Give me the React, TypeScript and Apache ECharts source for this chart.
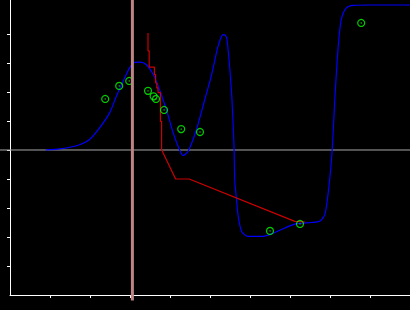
import React, { useEffect, useRef } from "react";
import * as echarts from "echarts";

// Blue smooth curve [x, y]
const blueCurve: [number, number][] = [
  [0.89, 0.0], [1.2, 0.03], [1.41, 0.07], [1.74, 0.18], [1.99, 0.36], [2.24, 0.76],
  [2.49, 1.28], [2.66, 1.85], [2.83, 2.37], [2.99, 2.83], [3.12, 3.02], [3.25, 3.03],
  [3.41, 2.94], [3.58, 2.6], [3.74, 2.08], [3.91, 1.39], [4.08, 0.59], [4.24, 0.0],
  [4.33, -0.19], [4.45, -0.05], [4.66, 0.7], [4.87, 1.74], [5.03, 2.54], [5.2, 3.57],
  [5.3, 3.95], [5.36, 3.98], [5.42, 3.85], [5.49, 2.88], [5.55, 1.73], [5.6, 0.12],
  [5.62, -1.08], [5.66, -1.66], [5.7, -2.23], [5.79, -2.81], [5.95, -2.98], [6.29, -2.98],
  [6.53, -2.9], [6.87, -2.69], [7.16, -2.54], [7.53, -2.5], [7.74, -2.46], [7.87, -2.23],
  [7.95, -1.54], [8.02, -0.62], [8.06, 0.12], [8.12, 1.73], [8.2, 3.46], [8.28, 4.49],
  [8.41, 4.9], [8.58, 4.99], [9.0, 5.0], [9.5, 5.0], [10, 5.0],
];

// Red polyline [x, y]
const redLine: [number, number][] = [
  [3.45, 4.03], [3.45, 3.42], [3.48, 3.42], [3.48, 2.86], [3.61, 2.86], [3.61, 2.6],
  [3.64, 2.6], [3.64, 2.31], [3.67, 2.31], [3.67, 2.14], [3.7, 2.14], [3.7, 1.98],
  [3.76, 1.98], [3.76, 0.99], [3.79, 0.99], [3.79, 0.01], [4.14, -1.0], [4.48, -1.0],
  [7.12, -2.46], [7.37, -2.48],
];

// Green sample points [x, y]
const greenPoints: [number, number][] = [
  [2.38, 1.76], [2.73, 2.21], [2.98, 2.38], [3.45, 2.04], [3.59, 1.85], [3.65, 1.76],
  [3.85, 1.38], [4.28, 0.72], [4.75, 0.62], [6.5, -2.79], [7.25, -2.55], [8.78, 4.38],
];

// Vertical cursor position and reference line value
const cursorX = 3.06;
const zeroY = 0;

// Axis ranges and tick values
const xMin = 0;
const xMax = 10;
const yMin = -5;
const yMax = 5.172;
const xTicks = [1, 2, 3, 4, 5, 6, 7, 8, 9];
const yTicks = [-4, -3, -2, -1, 0, 1, 2, 3, 4];

export default function App() {
  const ref = useRef<HTMLDivElement>(null);

  useEffect(() => {
    if (!ref.current) return;
    const chart = echarts.init(ref.current, undefined, { renderer: "svg" });
    chart.setOption({
      animation: false,
      backgroundColor: "#000000",
      grid: { left: 10, right: 0, top: 0, bottom: 15 },
      xAxis: {
        type: "value",
        min: xMin,
        max: xMax,
        interval: 1,
        axisLine: { onZero: false, lineStyle: { color: "#ffffff", width: 1 } },
        axisTick: { show: true, length: 3, customValues: xTicks, lineStyle: { color: "#ffffff" } },
        axisLabel: { show: false },
        splitLine: { show: false },
      },
      yAxis: {
        type: "value",
        min: yMin,
        max: yMax,
        interval: 1,
        axisLine: { show: true, onZero: false, lineStyle: { color: "#ffffff", width: 1 } },
        axisTick: { show: true, length: 3, customValues: yTicks, lineStyle: { color: "#ffffff" } },
        axisLabel: { show: false },
        splitLine: { show: false },
      },
      series: [
        {
          type: "line",
          data: blueCurve,
          smooth: 0.25,
          showSymbol: false,
          lineStyle: { color: "#0000ff", width: 1.2 },
          z: 3,
        },
        {
          type: "line",
          data: redLine,
          showSymbol: false,
          lineStyle: { color: "#cc0000", width: 1.2 },
          z: 4,
        },
        {
          type: "scatter",
          data: greenPoints,
          symbol: "circle",
          symbolSize: 7,
          itemStyle: { color: "rgba(0,0,0,0)", borderColor: "#00ff00", borderWidth: 1.2 },
          z: 5,
        },
        {
          type: "scatter",
          data: greenPoints,
          symbol: "circle",
          symbolSize: 1.5,
          itemStyle: { color: "#00cc00" },
          z: 6,
        },
      ],
    });

    const [cx, y0] = chart.convertToPixel({ gridIndex: 0 }, [cursorX, zeroY]) as number[];
    const [, yb] = chart.convertToPixel({ gridIndex: 0 }, [cursorX, yMin]) as number[];
    chart.setOption({
      graphic: [
        {
          type: "line",
          z: 1,
          shape: { x1: 0, y1: y0, x2: 410, y2: y0 },
          style: { stroke: "#a8a8a8", lineWidth: 1 },
        },
        {
          type: "rect",
          z: 100,
          shape: { x: cx - 1.5, y: 0, width: 3, height: yb + 5.5 },
          style: { fill: "#bc8484" },
        },
      ],
    });

    return () => chart.dispose();
  }, []);

  return (
    <div
      ref={ref}
      style={{ position: "fixed", left: 0, top: 0, width: 410, height: 310 }}
    />
  );
}
